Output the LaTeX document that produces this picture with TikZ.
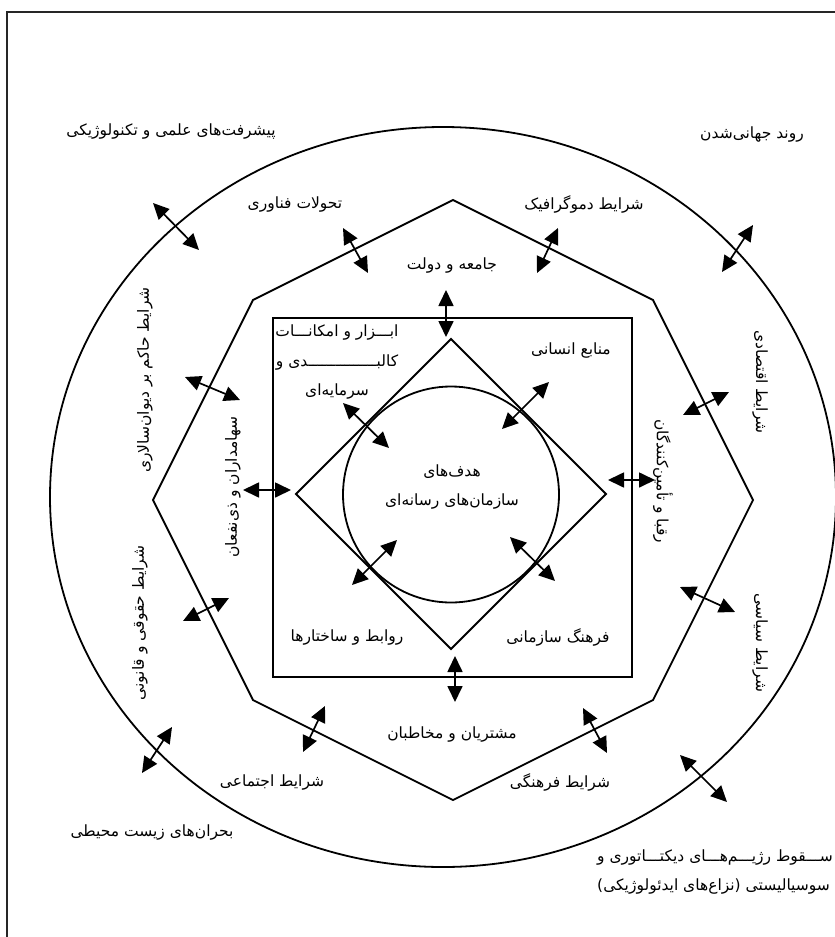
\documentclass[tikz,border=0pt]{standalone}
\usepackage{fontspec}
\newfontfamily\arabicfont[Script=Arabic]{DejaVu Sans}
\TeXXeTstate=1
\usetikzlibrary{arrows.meta}
\newcommand{\fa}[1]{\beginR #1\endR}

\tikzset{
    matn/.style={font=\arabicfont\fontsize{15.5}{29.5}\selectfont, inner sep=1pt, align=center},
    pfeil/.style={{Triangle[length=16pt,width=15pt]}-{Triangle[length=16pt,width=15pt]}, line width=1.7pt},
    linie/.style={line width=1.8pt}
}

\begin{document}
\begin{tikzpicture}[x=1pt,y=-1pt]
    \useasboundingbox (0,0) rectangle (835,937);
    \draw[line width=2pt, black!85] (6.5,937) |- (835,11.5);
    \draw[linie] (443,497) ellipse [x radius=393, y radius=370];
    \draw[linie] (453,200) -- (653,300) -- (753,500) -- (653,700) -- (453,800)
        -- (253,700) -- (153,500) -- (253,300) -- cycle;
    \draw[linie] (273,318) rectangle (632,677);
    \draw[linie] (451,339) -- (606,494) -- (451,649) -- (296,494) -- cycle;
    \draw[linie] (451,494.5) circle [radius=108];
    \path node[matn] (elmi) at (171,132) {\fa{پیشرفت‌های علمی و تکنولوژیکی}}
        node[matn] (jahani) at (752,135) {\fa{روند جهانی‌شدن}}
        node[matn] (fanavari) at (295,205) {\fa{تحولات فناوری}}
        node[matn] (demograf) at (584,204) {\fa{شرایط دموگرافیک}}
        node[matn] (jameh) at (452,265) {\fa{جامعه و دولت}}
        node[matn] (abzar) at (337,362) {\fa{ابـــزار و امکانـــات}\\\fa{کالبـــــــــــــــدی و}\\\fa{سرمایه‌ای}}
        node[matn] (manabe) at (571,350) {\fa{منابع انسانی}}
        node[matn] (hadaf) at (452,487) {\fa{هدف‌های}\\\fa{سازمان‌های رسانه‌ای}}
        node[matn, rotate=90] (divan) at (145,380) {\fa{شرایط حاکم بر دیوان‌سالاری}}
        node[matn, rotate=90] (sahamdar) at (233,487) {\fa{سهامداران و ذی‌نفعان}}
        node[matn, rotate=90] (hoquqi) at (140,623) {\fa{شرایط حقوقی و قانونی}}
        node[matn, rotate=-90] (eqtesadi) at (760,382) {\fa{شرایط اقتصادی}}
        node[matn, rotate=-90] (roqaba) at (663,481) {\fa{رقبا و تأمین‌کنندگان}}
        node[matn, rotate=-90] (siasi) at (760,643) {\fa{شرایط سیاسی}}
        node[matn] (ravabet) at (347,637) {\fa{روابط و ساختارها}}
        node[matn] (farhang) at (558,637) {\fa{فرهنگ سازمانی}}
        node[matn] (moshtari) at (452,734) {\fa{مشتریان و مخاطبان}}
        node[matn] (ejtemai) at (272,782) {\fa{شرایط اجتماعی}}
        node[matn] (farhangi) at (560,782) {\fa{شرایط فرهنگی}}
        node[matn] (bohran) at (152,832) {\fa{بحران‌های زیست محیطی}}
        node[matn, align=left, anchor=west] (soqut) at (596,872) {\fa{ســـقوط رژیـــم‌هـــای دیکتـــاتوری و}\\\fa{سوسیالیستی (نزاع‌های ایدئولوژیکی)}};
    \path coordinate (a1) at (153,203) coordinate (b1) at (199,250)
        coordinate (a2) at (343,228) coordinate (b2) at (368,273)
        coordinate (a3) at (558,228) coordinate (b3) at (537,273)
        coordinate (a4) at (753,225) coordinate (b4) at (722,272)
        coordinate (a5) at (446,290) coordinate (b5) at (446,337)
        coordinate (a6) at (185,377) coordinate (b6) at (240,400)
        coordinate (a7) at (243,490) coordinate (b7) at (291,490)
        coordinate (a8) at (343,403) coordinate (b8) at (389,448)
        coordinate (a9) at (549,382) coordinate (b9) at (502,429)
        coordinate (a10) at (608,480) coordinate (b10) at (655,480)
        coordinate (a11) at (729,392) coordinate (b11) at (683,415)
        coordinate (a12) at (680,587) coordinate (b12) at (735,612)
        coordinate (a13) at (510,537) coordinate (b13) at (555,581)
        coordinate (a14) at (397,540) coordinate (b14) at (352,585)
        coordinate (a15) at (455,656) coordinate (b15) at (455,702)
        coordinate (a16) at (183,621) coordinate (b16) at (229,598)
        coordinate (a17) at (325,706) coordinate (b17) at (303,752)
        coordinate (a18) at (583,708) coordinate (b18) at (607,753)
        coordinate (a19) at (680,755) coordinate (b19) at (727,802)
        coordinate (a20) at (172,727) coordinate (b20) at (142,773);
    \draw[pfeil] (a1) -- (b1);
    \draw[pfeil] (a2) -- (b2);
    \draw[pfeil] (a3) -- (b3);
    \draw[pfeil] (a4) -- (b4);
    \draw[pfeil] (a5) -- (b5);
    \draw[pfeil] (a6) -- (b6);
    \draw[pfeil] (a7) -- (b7);
    \draw[pfeil] (a8) -- (b8);
    \draw[pfeil] (a9) -- (b9);
    \draw[pfeil] (a10) -- (b10);
    \draw[pfeil] (a11) -- (b11);
    \draw[pfeil] (a12) -- (b12);
    \draw[pfeil] (a13) -- (b13);
    \draw[pfeil] (a14) -- (b14);
    \draw[pfeil] (a15) -- (b15);
    \draw[pfeil] (a16) -- (b16);
    \draw[pfeil] (a17) -- (b17);
    \draw[pfeil] (a18) -- (b18);
    \draw[pfeil] (a19) -- (b19);
    \draw[pfeil] (a20) -- (b20);
\end{tikzpicture}
\end{document}
